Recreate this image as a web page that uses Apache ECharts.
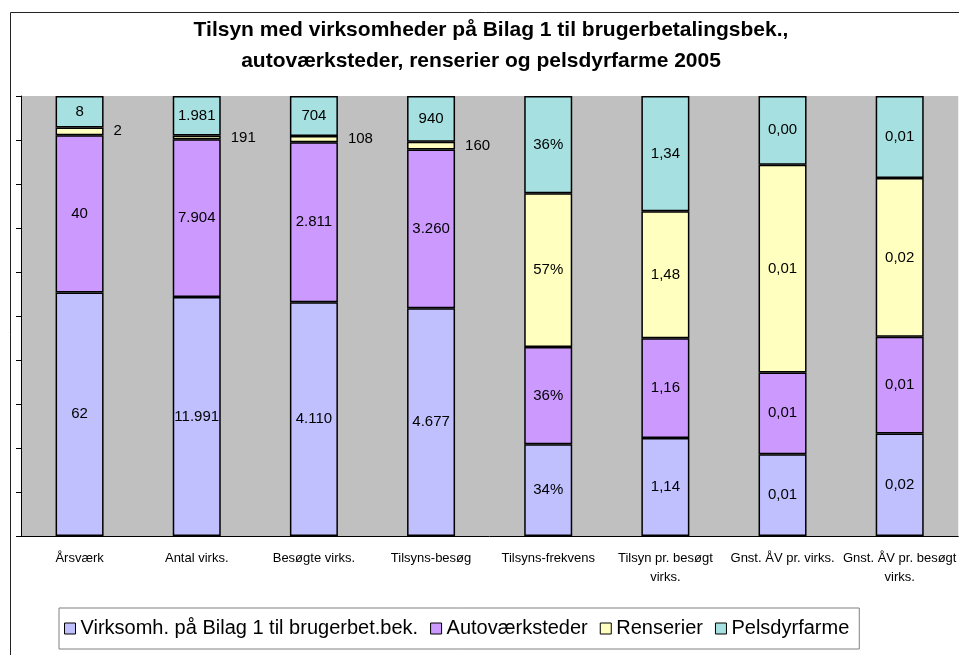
<!DOCTYPE html>
<html>
<head>
<meta charset="utf-8">
<script src="https://cdn.jsdelivr.net/npm/echarts@6/dist/echarts.min.js"></script>
<style>
  html, body { margin: 0; padding: 0; background: #fff; }
  #chart { width: 959px; height: 655px; }
</style>
</head>
<body>
<div id="chart"></div>
<script>
// kategorier og serier
const categories = ['Årsværk', 'Antal virks.', 'Besøgte virks.', 'Tilsyns-besøg', 'Tilsyns-frekvens',
  'Tilsyn pr. besøgt\nvirks.', 'Gnst. ÅV pr. virks.', 'Gnst. ÅV pr. besøgt\nvirks.']
const seriesNames = ['Virksomh. på Bilag 1 til brugerbet.bek.', 'Autoværksteder', 'Renserier', 'Pelsdyrfarme']

// værdier (sidste to kolonner aflæst fra søjlehøjder)
const virksomh = [62, 11991, 4110, 4677, 34, 1.14, 0.0050, 0.0140]
const autovaerk = [40, 7904, 2811, 3260, 36, 1.16, 0.0050, 0.0132]
const renserier = [2, 191, 108, 160, 57, 1.48, 0.0127, 0.0217]
const pelsdyr = [8, 1981, 704, 940, 36, 1.34, 0.0042, 0.0112]

// viste etiketter
const virksomhLabels = ['62', '11.991', '4.110', '4.677', '34%', '1,14', '0,01', '0,02']
const autovaerkLabels = ['40', '7.904', '2.811', '3.260', '36%', '1,16', '0,01', '0,01']
const renserierLabels = ['2', '191', '108', '160', '57%', '1,48', '0,01', '0,02']
const pelsdyrLabels = ['8', '1.981', '704', '940', '36%', '1,34', '0,00', '0,01']

const colors = ['#c0c0ff', '#cc99ff', '#ffffc0', '#a6e0e0']
const allValues = [virksomh, autovaerk, renserier, pelsdyr]
const allLabels = [virksomhLabels, autovaerkLabels, renserierLabels, pelsdyrLabels]

const totals = categories.map((c, i) => allValues.reduce((s, arr) => s + arr[i], 0))

const chart = echarts.init(document.getElementById('chart'))

const series = allValues.map((arr, k) => ({
  name: seriesNames[k],
  type: 'bar',
  stack: 'total',
  barWidth: 48,
  itemStyle: { color: colors[k], borderColor: '#000', borderWidth: 1.5 },
  data: arr.map((v, i) => {
    const share = v / totals[i] * 100
    const small = share < 3
    return {
      value: share,
      label: {
        show: true,
        position: small ? 'right' : 'inside',
        distance: 10,
        formatter: allLabels[k][i],
        color: '#000',
        fontSize: 15,
        fontFamily: 'Liberation Sans, Arial, sans-serif'
      }
    }
  })
}))

const option = {
  animation: false,
  graphic: [
    { type: 'rect', shape: { x: 10.5, y: 12.5, width: 1000, height: 700 },
      style: { fill: 'none', stroke: '#222', lineWidth: 1 }, z: 0 },
    { type: 'text', x: 491, y: 20,
      style: { text: 'Tilsyn med virksomheder på Bilag 1 til brugerbetalingsbek.,', fill: '#000',
        fontSize: 21, fontWeight: 'bold', fontFamily: 'Liberation Sans, Arial, sans-serif',
        align: 'center', textAlign: 'center' } },
    { type: 'text', x: 481, y: 51,
      style: { text: 'autoværksteder, renserier og pelsdyrfarme 2005', fill: '#000',
        fontSize: 21, fontWeight: 'bold', fontFamily: 'Liberation Sans, Arial, sans-serif',
        align: 'center', textAlign: 'center' } }
  ],
  legend: {
    left: 59,
    top: 608,
    padding: [10, 10, 10, 5],
    borderColor: '#808080',
    borderWidth: 1,
    itemGap: 12,
    itemWidth: 11,
    itemHeight: 11,
    icon: 'rect',
    itemStyle: { borderColor: '#000', borderWidth: 1 },
    textStyle: { fontSize: 20, lineHeight: 21, color: '#000', fontFamily: 'Liberation Sans, Arial, sans-serif' },
    data: seriesNames
  },
  grid: {
    left: 21,
    top: 96,
    width: 944,
    height: 440,
    show: true,
    backgroundColor: '#c0c0c0',
    borderWidth: 0
  },
  xAxis: {
    type: 'category',
    data: categories,
    axisLine: { lineStyle: { color: '#000', width: 1 } },
    axisTick: { length: 5, lineStyle: { color: '#000' } },
    axisLabel: {
      interval: 0,
      margin: 13,
      color: '#000',
      fontSize: 13,
      lineHeight: 19,
      fontFamily: 'Liberation Sans, Arial, sans-serif'
    }
  },
  yAxis: {
    type: 'value',
    min: 0,
    max: 100,
    interval: 10,
    axisLine: { show: true, lineStyle: { color: '#000', width: 1 } },
    axisTick: { show: true, length: 5, lineStyle: { color: '#000' } },
    axisLabel: { show: false },
    splitLine: { show: false }
  },
  series: series
}

chart.setOption(option)
</script>
</body>
</html>
